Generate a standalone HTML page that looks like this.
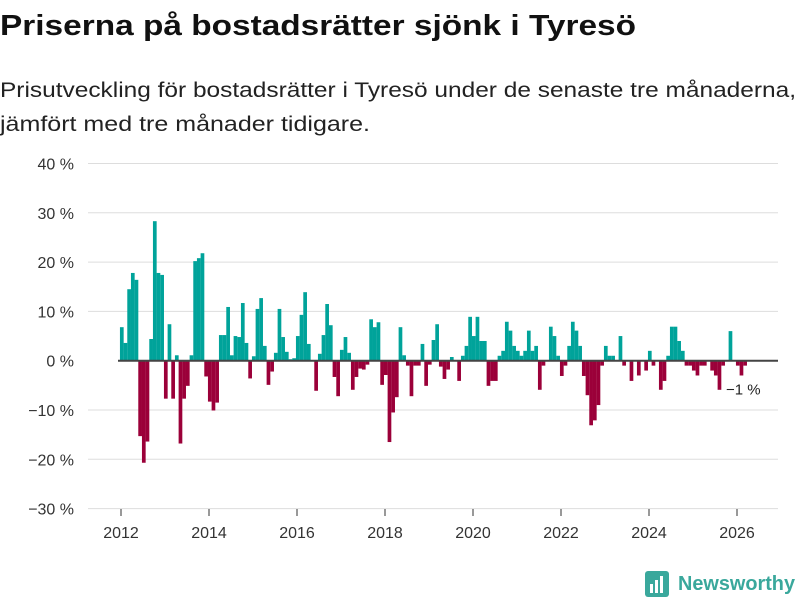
<!DOCTYPE html>
<html><head><meta charset="utf-8"><style>
body{margin:0;background:#fff;font-family:"Liberation Sans","DejaVu Sans",sans-serif;}
#wrap{position:relative;width:800px;height:600px;overflow:hidden;}
</style></head><body>
<div id="wrap">
<svg id="chart" width="800" height="600" xmlns="http://www.w3.org/2000/svg">
<text x="0" y="35" font-size="29" font-weight="bold" fill="#111" textLength="636" lengthAdjust="spacingAndGlyphs">Priserna på bostadsrätter sjönk i Tyresö</text>
<text x="0" y="97" font-size="21.5" fill="#222" textLength="796" lengthAdjust="spacingAndGlyphs">Prisutveckling för bostadsrätter i Tyresö under de senaste tre månaderna,</text>
<text x="0" y="131" font-size="21.5" fill="#222" textLength="370" lengthAdjust="spacingAndGlyphs">jämfört med tre månader tidigare.</text>
<g id="grid"></g><g id="bars"></g><g id="axes"></g>
<g>
<rect x="645" y="571" width="24" height="26" rx="3" fill="#3aa89c"/>
<rect x="650" y="584" width="3" height="9" fill="#fff"/><rect x="655" y="580" width="3" height="13" fill="#fff"/><rect x="660" y="576" width="3" height="17" fill="#fff"/>
<text x="678" y="590" font-size="20" font-weight="bold" fill="#3aa89c" textLength="117" lengthAdjust="spacingAndGlyphs">Newsworthy</text>
</g>
</svg>
</div>
<script>
const yTicks=[40,30,20,10,0,-10,-20,-30];
const xTickYears=[2012,2014,2016,2018,2020,2022,2024,2026];
const startYear=2012;
const values=[6.8,3.6,14.5,17.8,16.4,-15.3,-20.7,-16.4,4.4,28.3,17.8,17.4,-7.7,7.4,-7.7,1.1,-16.8,-7.7,-5.1,1.1,20.2,20.8,21.8,-3.2,-8.3,-10.1,-8.5,5.2,5.2,10.9,1.1,5.0,4.8,11.7,3.6,-3.6,0.9,10.5,12.7,3.0,-4.9,-2.2,1.6,10.5,
4.8,1.8,0.3,0.5,5.0,9.3,13.9,3.4,0,-6.1,1.4,5.2,11.5,7.2,-3.3,-7.2,2.2,4.8,1.6,-5.9,-3.3,-1.6,-1.8,-0.8,8.4,6.8,7.8,-4.9,-2.9,-16.5,-10.5,-7.4,6.8,1.1,-1.0,-7.2,-1.0,-1.0,3.4,-5.1,-0.8,4.2,7.4,-1.2,
-3.7,-1.8,0.75,0,-4.1,1.0,3.0,8.9,5.0,8.9,4.0,4.0,-5.1,-4.1,-4.1,1.0,2.0,7.9,6.1,3.0,2.0,1.0,2.0,6.1,2.0,3.0,-5.9,-1.0,0,6.9,5.0,1.0,-3.1,-1.0,3.0,7.9,6.1,3.0,-3.1,-7.0,-13.1,-12.1,-9.0,
-1.0,3.0,1.0,1.0,0,5.0,-1.0,0,-4.1,0,-3.0,0,-2.0,2.0,-1.0,0,-5.9,-4.1,1.0,6.9,6.9,4.0,2.0,-1.0,-1.0,-2.0,-3.0,-1.0,-1.0,0,-2.0,-3.0,-5.9,-1.0,0,6.0,0,-1.0,-3.0,-1.0];
const lastLabel="\u22121 %";
const NS="http://www.w3.org/2000/svg";
function y(v){return 360.7-v*4.93;}
function xYear(yr){return 121+(yr-2012)*44;}
function xMonth(i){return xYear(startYear)+i*44/12+0.8;}
function mk(tag,attrs,parent){const e=document.createElementNS(NS,tag);for(const k in attrs)e.setAttribute(k,attrs[k]);parent.appendChild(e);return e;}
const grid=document.getElementById('grid'),bars=document.getElementById('bars'),axes=document.getElementById('axes');
yTicks.forEach(t=>{
  if(t!==0){const l=mk('line',{x1:88,x2:778,y1:y(t),y2:y(t),stroke:'#ddd','stroke-width':1},grid);
  
  }
  const tx=mk('text',{x:74,y:y(t)+6,'text-anchor':'end','font-size':16,fill:'#333'},axes);
  tx.textContent=(t<0?'\u2212'+(-t):t)+' %';
  
  
});
values.forEach((v,i)=>{
  const cx=xMonth(i);
  const r=mk('rect',{x:cx-1.85,width:3.7,y:Math.min(y(v),y(0)),height:Math.abs(y(v)-y(0)),fill:v>=0?'#00a39a':'#9b0039'},bars);
  
  
});
const zl=mk('line',{x1:118,x2:778,y1:y(0),y2:y(0),stroke:'#444','stroke-width':2},axes);


xTickYears.forEach(yr=>{
  const tk=mk('line',{x1:xYear(yr),x2:xYear(yr),y1:509,y2:516,stroke:'#333','stroke-width':1},axes);
  
  
  const tx=mk('text',{x:xYear(yr),y:538,'text-anchor':'middle','font-size':16,fill:'#333'},axes);
  tx.textContent=yr;
  
  
});
const lv=values[values.length-1];
const ll=mk('text',{x:726,y:y(lv)+29,'font-size':15,fill:'#222'},axes);
ll.textContent=lastLabel;


</script>
</body></html>
